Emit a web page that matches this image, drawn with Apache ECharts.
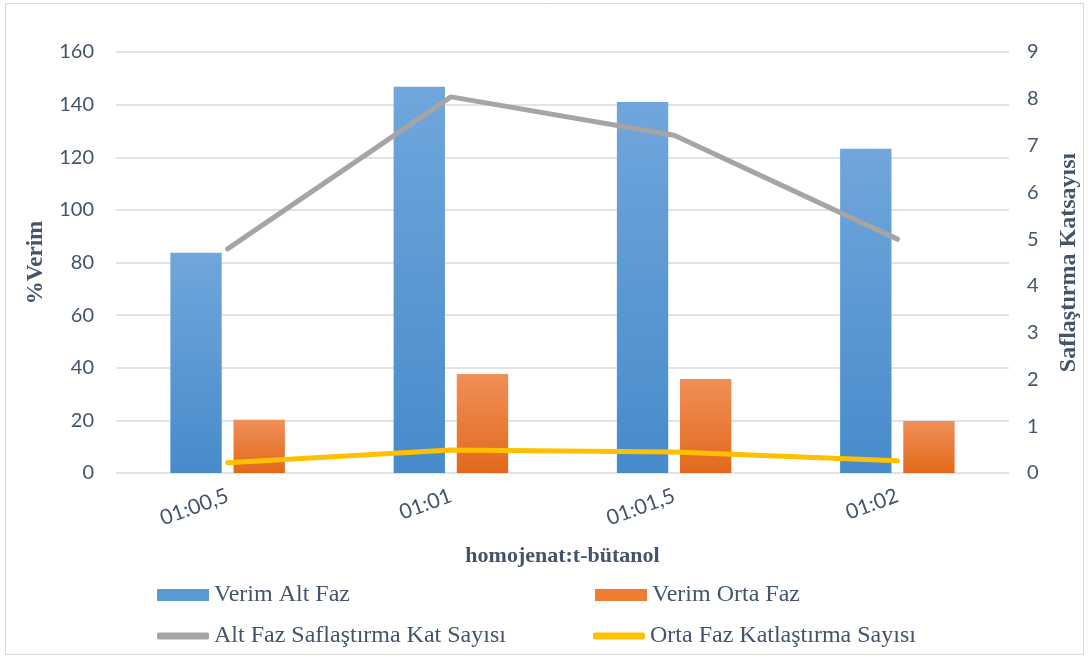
<!DOCTYPE html>
<html>
<head>
<meta charset="utf-8">
<script src="https://cdn.jsdelivr.net/npm/echarts@6/dist/echarts.min.js"></script>
<style>
  html, body { margin: 0; padding: 0; background: #ffffff; }
  #chart { width: 1089px; height: 659px; }
</style>
</head>
<body>
<div id="chart"></div>
<script>
// Oranlar (homojenat : t-bütanol)
const categories = ['01:00,5', '01:01', '01:01,5', '01:02'];
// % verim (sol eksen)
const verimAltFaz = [83.7, 146.8, 141.0, 123.2];
const verimOrtaFaz = [20.2, 37.6, 35.7, 19.8];
// Saflaştırma katsayısı (sağ eksen)
const altFazSaflastirma = [4.79, 8.04, 7.22, 5.0];
const ortaFazKatlastirma = [0.22, 0.49, 0.45, 0.26];
// Eksen aralıkları
const leftTicks = { min: 0, max: 160, interval: 20 };
const rightTicks = { min: 0, max: 9, interval: 1 };

const seriesNames = ['Verim Alt Faz', 'Verim Orta Faz', 'Alt Faz Saflaştırma Kat Sayısı', 'Orta Faz Katlaştırma Sayısı'];

const textColor = '#44546a';
const tickFont = 'Lato';
const serifFont = 'Liberation Serif';

function grad(top, bottom) {
  return new echarts.graphic.LinearGradient(0, 0, 0, 1, [
    { offset: 0, color: top },
    { offset: 1, color: bottom }
  ]);
}
const blueFill = grad('#70a6dc', '#478bcb');
const orangeFill = grad('#f08f58', '#e2691b');

const chart = echarts.init(document.getElementById('chart'), null, { renderer: 'canvas' });

const legendText = { fontFamily: serifFont, fontSize: 24, color: textColor, lineHeight: 26 };

function legendAt(name, left, top, icon, color, h) {
  return {
    left: left, top: top,
    orient: 'horizontal',
    data: [{ name: name, icon: icon, itemStyle: { color: color, borderWidth: 0 }, textStyle: legendText }],
    itemWidth: 52, itemHeight: h, itemGap: 0,
    selectedMode: false,
    textStyle: legendText,
    padding: 0
  };
}

chart.setOption({
  animation: false,
  backgroundColor: '#ffffff',
  graphic: [{
    type: 'rect',
    shape: { x: 5.5, y: 3.5, width: 1078, height: 651 },
    style: { fill: 'none', stroke: '#d9d9d9', lineWidth: 1 },
    silent: true
  }],
  grid: { left: 116, right: 79, top: 52, bottom: 186, containLabel: false },
  legend: [
    legendAt(seriesNames[0], 157, 582, 'rect', '#5b9bd5', 12),
    legendAt(seriesNames[1], 595, 582, 'rect', '#ed7d31', 12),
    legendAt(seriesNames[2], 157, 623, 'roundRect', '#a5a5a5', 7),
    legendAt(seriesNames[3], 593, 623, 'roundRect', '#ffc000', 7)
  ],
  xAxis: {
    type: 'category',
    data: categories,
    name: 'homojenat:t-bütanol',
    nameLocation: 'middle',
    nameGap: 72,
    nameTextStyle: { fontFamily: serifFont, fontWeight: 'bold', fontSize: 22, color: textColor },
    axisLine: { show: false },
    axisTick: { show: false },
    axisLabel: { rotate: 20, margin: 22, fontFamily: tickFont, fontSize: 21, color: textColor }
  },
  yAxis: [{
    type: 'value',
    min: leftTicks.min, max: leftTicks.max, interval: leftTicks.interval,
    name: '%Verim',
    nameLocation: 'middle',
    nameGap: 68,
    nameTextStyle: { fontFamily: serifFont, fontWeight: 'bold', fontSize: 23, color: textColor },
    axisLine: { show: false },
    axisTick: { show: false },
    axisLabel: { margin: 22, fontFamily: tickFont, fontSize: 20, color: textColor },
    splitLine: { lineStyle: { color: '#dfe4ea', width: 2 } }
  }, {
    type: 'value',
    position: 'right',
    min: rightTicks.min, max: rightTicks.max, interval: rightTicks.interval,
    name: 'Saflaştırma Katsayısı',
    nameLocation: 'middle',
    nameGap: 48,
    nameTextStyle: { fontFamily: serifFont, fontWeight: 'bold', fontSize: 24, color: textColor },
    axisLine: { show: false },
    axisTick: { show: false },
    axisLabel: { margin: 18, fontFamily: tickFont, fontSize: 20, color: textColor },
    splitLine: { show: false }
  }],
  series: [{
    name: seriesNames[0],
    type: 'bar',
    yAxisIndex: 0,
    data: verimAltFaz,
    barWidth: '23%',
    barGap: '23%',
    itemStyle: { color: blueFill }
  }, {
    name: seriesNames[1],
    type: 'bar',
    yAxisIndex: 0,
    data: verimOrtaFaz,
    barWidth: '23%',
    barGap: '23%',
    itemStyle: { color: orangeFill }
  }, {
    name: seriesNames[2],
    type: 'line',
    yAxisIndex: 1,
    data: altFazSaflastirma,
    symbol: 'none',
    lineStyle: { color: '#a5a5a5', width: 5, cap: 'round', join: 'round' },
    itemStyle: { color: '#a5a5a5' },
    z: 5
  }, {
    name: seriesNames[3],
    type: 'line',
    yAxisIndex: 1,
    data: ortaFazKatlastirma,
    symbol: 'none',
    lineStyle: { color: '#ffc000', width: 5, cap: 'round', join: 'round' },
    itemStyle: { color: '#ffc000' },
    z: 5
  }]
});
</script>
</body>
</html>
